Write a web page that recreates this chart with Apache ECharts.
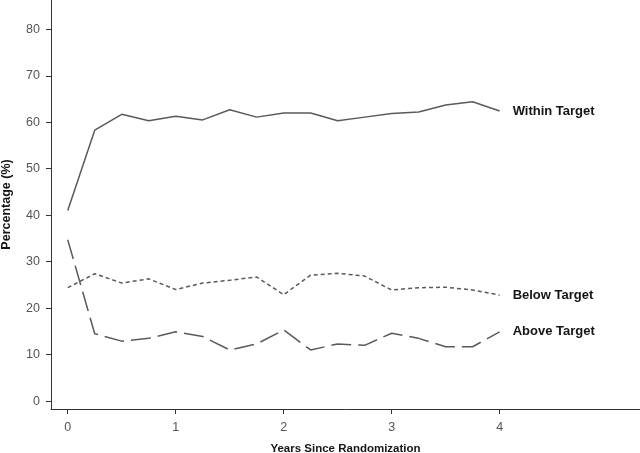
<!DOCTYPE html>
<html>
<head>
<meta charset="utf-8">
<script src="https://cdn.jsdelivr.net/npm/echarts@6/dist/echarts.min.js"></script>
<style>
  html, body { margin: 0; padding: 0; background: #fff; }
  #chart { width: 640px; height: 453px; }
</style>
</head>
<body>
<div id="chart"></div>
<script>
// years since randomization, measured every quarter
var years = [0, 0.25, 0.5, 0.75, 1, 1.25, 1.5, 1.75, 2, 2.25, 2.5, 2.75, 3, 3.25, 3.5, 3.75, 4];
var withinTarget = [41, 58.3, 61.7, 60.3, 61.3, 60.5, 62.7, 61.1, 62, 62, 60.3, 61.1, 61.9, 62.2, 63.7, 64.4, 62.4];
var belowTarget = [24.4, 27.4, 25.4, 26.3, 24, 25.4, 26, 26.7, 22.9, 27.1, 27.5, 26.9, 23.9, 24.4, 24.5, 23.9, 22.8];
var aboveTarget = [34.7, 14.5, 12.9, 13.5, 14.9, 13.9, 11, 12.3, 15.3, 11, 12.3, 12, 14.6, 13.5, 11.7, 11.7, 14.9];
var xTicks = [0, 1, 2, 3, 4];
var yTicks = [0, 10, 20, 30, 40, 50, 60, 70, 80];

var font = '"Liberation Sans", Arial, sans-serif';
var lineColor = '#5a5a5a';

function pairs(vals) {
    return years.map(function (x, i) { return [x, vals[i]]; });
}

function makeSeries(name, vals, dash) {
    return {
        name: name,
        type: 'line',
        data: pairs(vals),
        symbol: 'none',
        lineStyle: { color: lineColor, width: 1.5, type: dash },
        endLabel: {
            show: true,
            formatter: name,
            distance: 13,
            fontFamily: font,
            fontWeight: 'bold',
            fontSize: 13,
            color: '#151515'
        }
    };
}

var myChart = echarts.init(document.getElementById('chart'));
var option = {
    animation: false,
    grid: { left: 51, right: 0, top: 0, bottom: 44, containLabel: false, outerBoundsMode: 'none' },
    xAxis: {
        type: 'value',
        min: -0.155,
        max: 5.3,
        name: 'Years Since Randomization',
        nameLocation: 'middle',
        nameGap: 34,
        nameTextStyle: { fontFamily: font, fontWeight: 'bold', fontSize: 11.5, color: '#151515' },
        axisLine: { onZero: false, lineStyle: { color: '#333', width: 1 } },
        axisTick: { show: true, length: 5, customValues: xTicks, lineStyle: { color: '#333' } },
        axisLabel: { customValues: xTicks, margin: 12, fontFamily: font, fontSize: 12.5, color: '#555' },
        splitLine: { show: false }
    },
    yAxis: {
        type: 'value',
        min: -1.7,
        max: 86.3,
        name: 'Percentage (%)',
        nameLocation: 'middle',
        nameGap: 38,
        nameTextStyle: { fontFamily: font, fontWeight: 'bold', fontSize: 12.5, color: '#151515' },
        axisLine: { show: true, onZero: false, lineStyle: { color: '#333', width: 1 } },
        axisTick: { show: true, length: 5, customValues: yTicks, lineStyle: { color: '#333' } },
        axisLabel: { customValues: yTicks, margin: 11, fontFamily: font, fontSize: 12.5, color: '#555' },
        splitLine: { show: false }
    },
    series: [
        makeSeries('Within Target', withinTarget, 'solid'),
        makeSeries('Below Target', belowTarget, [4, 3]),
        makeSeries('Above Target', aboveTarget, [20, 7])
    ]
};
myChart.setOption(option);
</script>
</body>
</html>
